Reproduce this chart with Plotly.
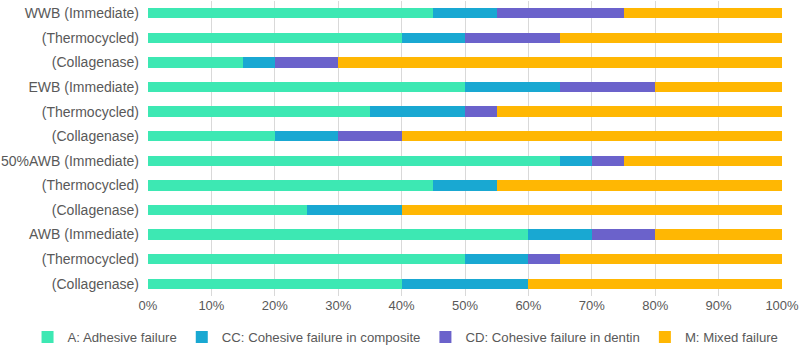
import plotly.graph_objects as go

categories = ["WWB (Immediate)", "(Thermocycled)", "(Collagenase)",
              "EWB (Immediate)", "(Thermocycled)", "(Collagenase)",
              "50%AWB (Immediate)", "(Thermocycled)", "(Collagenase)",
              "AWB (Immediate)", "(Thermocycled)", "(Collagenase)"]
adhesive = [45, 40, 15, 50, 35, 20, 65, 45, 25, 60, 50, 40]
cohesive_composite = [10, 10, 5, 15, 15, 10, 5, 10, 15, 10, 10, 20]
cohesive_dentin = [20, 15, 10, 15, 5, 10, 5, 0, 0, 10, 5, 0]
mixed = [25, 35, 70, 20, 45, 60, 25, 45, 60, 20, 35, 40]
series_names = ["A: Adhesive failure", "CC: Cohesive failure in composite",
                "CD: Cohesive failure in dentin", "M: Mixed failure"]
colors = ["#3DE8B3", "#19A8D2", "#6B62CB", "#FFB703"]
x_ticks = [0, 10, 20, 30, 40, 50, 60, 70, 80, 90, 100]

pos = list(range(len(categories)))
fig = go.Figure()
for name, vals, c in zip(series_names, [adhesive, cohesive_composite, cohesive_dentin, mixed], colors):
    fig.add_trace(go.Bar(y=pos, x=vals, name=name, orientation="h",
                         marker=dict(color=c, line=dict(width=0))))

fig.update_layout(
    barmode="stack", bargap=0.58,
    width=800, height=347,
    margin=dict(l=148, r=18, t=1, b=51, autoexpand=False),
    plot_bgcolor="white", paper_bgcolor="white",
    font=dict(family="Liberation Sans, Arial, sans-serif", size=13, color="#595959"),
    showlegend=True,
    legend=dict(orientation="h", x=-0.19, xanchor="left", y=-0.14, yanchor="middle",
                font=dict(size=13.2, color="#595959"), traceorder="normal"),
    xaxis=dict(range=[0, 100], tickvals=x_ticks, ticktext=[f"{v}%" for v in x_ticks],
               showgrid=True, gridcolor="#D9D9D9", gridwidth=1, zeroline=False,
               showline=False, ticks="", automargin=False,
               tickfont=dict(size=13, color="#595959")),
    yaxis=dict(tickvals=pos, ticktext=categories, range=[11.5, -0.5],
               showgrid=False, zeroline=False, ticks="", automargin=False,
               ticklabelstandoff=8, tickfont=dict(size=14, color="#595959")),
)
fig.write_html("out.html", config={"displayModeBar": False},
               post_script="document.body.style.margin='0';document.body.style.padding='0';document.body.style.overflow='hidden';")
